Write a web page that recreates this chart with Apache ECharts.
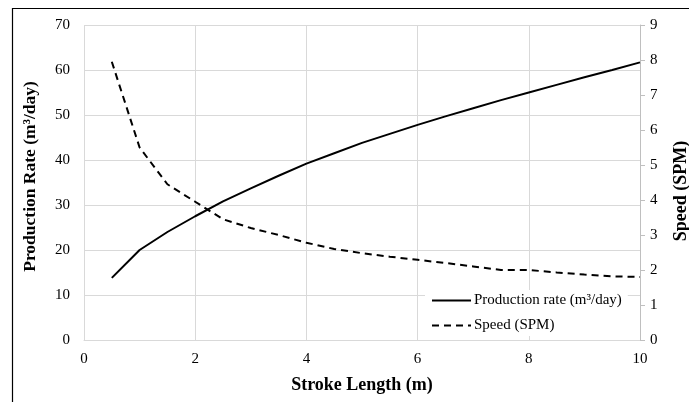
<!DOCTYPE html>
<html><head><meta charset="utf-8">
<script src="https://cdn.jsdelivr.net/npm/echarts@6/dist/echarts.min.js"></script>
<style>html,body{margin:0;padding:0;background:#fff}#c{width:689px;height:402px}</style>
</head><body><div id="c"></div>
<script>
var strokeLength = [0.5,1,1.5,2,2.5,3,3.5,4,4.5,5,5.5,6,6.5,7,7.5,8,8.5,9,9.5,10];
var productionRate = [13.8,20,24,27.5,30.8,33.7,36.5,39.2,41.5,43.8,45.8,47.8,49.7,51.5,53.3,55,56.7,58.4,60,61.7];
var speedSPM = [7.95,5.5,4.45,3.95,3.45,3.2,3.0,2.78,2.6,2.48,2.38,2.29,2.2,2.1,2.0,2.0,1.93,1.87,1.82,1.8];
var seriesNames = ['Production rate (m³/day)','Speed (SPM)'];
var font = 'Liberation Serif';
function pairs(xs, ys){ return xs.map(function(x,i){return [x, ys[i]];}); }
var chart = echarts.init(document.getElementById('c'));
chart.setOption({
  animation:false,
  backgroundColor:'#fff',
  textStyle:{fontFamily:font},
  graphic:[{type:'rect',shape:{x:12.5,y:8.5,width:720,height:440},style:{fill:'none',stroke:'#000',lineWidth:1.2},z:-1}],
  grid:{left:84,right:49,top:25,bottom:62,outerBoundsMode:'none',containLabel:false},
  legend:{
    orient:'vertical', left:425, top:290, itemWidth:39, itemHeight:12, itemGap:10,
    backgroundColor:'#fff', padding:[3,6,3,6],
    itemStyle:{color:'rgba(0,0,0,0)',borderColor:'rgba(0,0,0,0)',borderWidth:0},
    textStyle:{fontFamily:font,fontSize:15,color:'#000',padding:[0,0,0,-2]},
    data:seriesNames
  },
  xAxis:{type:'value',min:0,max:10,interval:2,
    name:'Stroke Length (m)',nameLocation:'middle',nameGap:36,
    nameTextStyle:{fontFamily:font,fontSize:18,fontWeight:'bold',color:'#000'},
    axisLine:{lineStyle:{color:'#d9d9d9'}},axisTick:{show:false},
    axisLabel:{fontFamily:font,fontSize:15,color:'#000',margin:12},
    splitLine:{lineStyle:{color:'#d9d9d9',width:1}}},
  yAxis:[
    {type:'value',min:0,max:70,interval:10,position:'left',
     name:'Production Rate (m³/day)',nameLocation:'middle',nameGap:45,nameRotate:90,
     nameTextStyle:{fontFamily:font,fontSize:17.5,fontWeight:'bold',color:'#000',padding:[0,0,0,12]},
     axisLine:{show:false},axisTick:{show:false},
     axisLabel:{fontFamily:font,fontSize:15,color:'#000',margin:14},
     splitLine:{lineStyle:{color:'#d9d9d9',width:1}}},
    {type:'value',min:0,max:9,interval:1,position:'right',
     name:'Speed (SPM)',nameLocation:'middle',nameGap:32,nameRotate:90,
     nameTextStyle:{fontFamily:font,fontSize:18,fontWeight:'bold',color:'#000',padding:[0,17,0,0]},
     axisLine:{show:true,lineStyle:{color:'#bfbfbf'}},
     axisTick:{show:true,inside:false,length:5,lineStyle:{color:'#bfbfbf'}},
     axisLabel:{fontFamily:font,fontSize:15,color:'#000',margin:10},
     splitLine:{show:false}}
  ],
  series:[
    {name:seriesNames[0],type:'line',yAxisIndex:0,data:pairs(strokeLength,productionRate),
     symbol:'none',lineStyle:{color:'#000',width:2},itemStyle:{color:'#000'}},
    {name:seriesNames[1],type:'line',yAxisIndex:1,data:pairs(strokeLength,speedSPM),
     symbol:'none',lineStyle:{color:'#000',width:2,type:[7,5]},itemStyle:{color:'#000'}}
  ]
});
</script></body></html>
